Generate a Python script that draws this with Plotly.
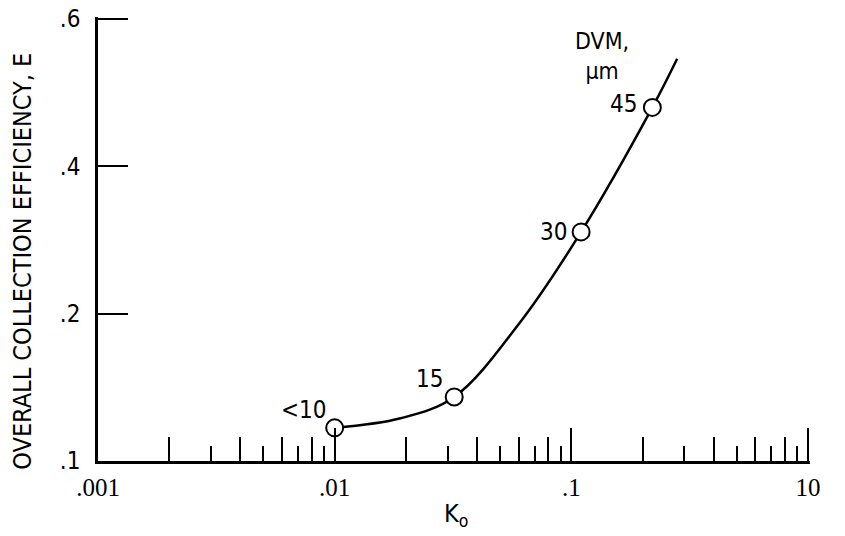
import math
import plotly.graph_objects as go

# Data
k_points = [0.01, 0.032, 0.11, 0.22]
e_points = [0.045, 0.087, 0.311, 0.480]
dvm_labels = ["<10", "15", "30", "45"]

curve_k = [0.01, 0.019, 0.032, 0.06, 0.11, 0.22, 0.28]
curve_e = [0.045, 0.058, 0.087, 0.186, 0.311, 0.480, 0.546]

x_tickvals = [0.001, 0.01, 0.1, 1]
x_ticktext = [".001", ".01", ".1", "10"]
x_minor_odd = [m * d for d in (0.001, 0.01, 0.1) for m in (3, 5, 7, 9)]
x_minor_even = [m * d for d in (0.001, 0.01, 0.1) for m in (2, 4, 6, 8)]

y_tickvals = [0, 0.2, 0.4, 0.6]
y_ticktext = [".1", ".2", ".4", ".6"]

FONT = "Liberation Sans Narrow, DejaVu Sans Condensed, Roboto Condensed, Arial Narrow, sans-serif"
SERIF = "Liberation Serif, DejaVu Serif, serif"

# ranges padded by ~2 px so the end ticks (.6 and 1) are drawn
X_RANGE = [-3, 0.0085]
Y_RANGE = [0, 0.6027]

fig = go.Figure()
fig.add_trace(go.Scatter(x=curve_k, y=curve_e, mode="lines",
                         line=dict(color="black", width=2.5, shape="spline", smoothing=1.0),
                         hoverinfo="skip", showlegend=False))
fig.add_trace(go.Scatter(x=k_points, y=e_points, mode="markers",
                         marker=dict(symbol="circle", size=17, color="white",
                                     line=dict(color="black", width=2)),
                         showlegend=False))
# empty trace so the overlay axis (second set of minor ticks) is drawn
fig.add_trace(go.Scatter(x=[None], y=[None], xaxis="x2", showlegend=False, hoverinfo="skip"))

# point labels
shifts = {"<10": (-6, 18), "15": (-9, 18), "30": (-12, 0), "45": (-13, 3)}
for k, e, lab in zip(k_points, e_points, dvm_labels):
    dx, dy = shifts[lab]
    fig.add_annotation(x=math.log10(k), y=e, text=lab.replace("<", "&lt;"),
                       showarrow=False, xanchor="right", yanchor="middle",
                       xshift=dx, yshift=dy, font=dict(size=24, color="black", family=FONT))

fig.add_annotation(xref="paper", yref="paper", x=0.708, y=0.912, text="DVM,<br>µm",
                   showarrow=False, xanchor="center", yanchor="middle", align="center",
                   font=dict(size=23, color="black", family=FONT))

# axis titles
fig.add_annotation(xref="paper", yref="paper", x=-0.106, y=0.45,
                   text="OVERALL COLLECTION EFFICIENCY, E",
                   textangle=-90, showarrow=False, xanchor="center", yanchor="middle",
                   font=dict(size=25, color="black", family=FONT))
fig.add_annotation(xref="paper", yref="paper", x=0.503, y=-0.122, text="K<sub>o</sub>",
                   showarrow=False, xanchor="center", yanchor="middle",
                   font=dict(size=25, color="black", family=FONT))

fig.update_layout(
    width=845, height=536,
    margin=dict(l=98, r=35, t=17, b=75, autoexpand=False),
    paper_bgcolor="white", plot_bgcolor="white",
    font=dict(family=FONT, color="black"),
    xaxis=dict(type="log", range=X_RANGE, tickvals=x_tickvals, ticktext=x_ticktext,
               automargin=False,
               ticks="inside", ticklen=33, tickwidth=2, tickcolor="black",
               showline=True, linecolor="black", linewidth=2.5, showgrid=False, zeroline=False,
               tickfont=dict(size=25, family=SERIF, color="black"),
               ticklabelstandoff=2,
               minor=dict(tickvals=x_minor_odd, ticks="inside", ticklen=15, tickwidth=2,
                          tickcolor="black", showgrid=False)),
    xaxis2=dict(type="log", range=X_RANGE, overlaying="x", side="bottom", anchor="y",
                automargin=False,
                tickvals=x_minor_even, ticks="inside", ticklen=24, tickwidth=2, tickcolor="black",
                showticklabels=False, showline=False, showgrid=False, zeroline=False),
    yaxis=dict(range=Y_RANGE, tickvals=y_tickvals, ticktext=y_ticktext,
               automargin=False,
               ticks="inside", ticklen=30, tickwidth=2, tickcolor="black",
               showline=True, linecolor="black", linewidth=2.5, showgrid=False, zeroline=False,
               tickfont=dict(size=24, color="black", family=FONT), ticklabelstandoff=10),
)

# remove the page's default 8 px body margin so the figure sits at the window's corner
fig.write_html("out.html", config={"displayModeBar": False},
               post_script="document.body.style.margin='0';")
